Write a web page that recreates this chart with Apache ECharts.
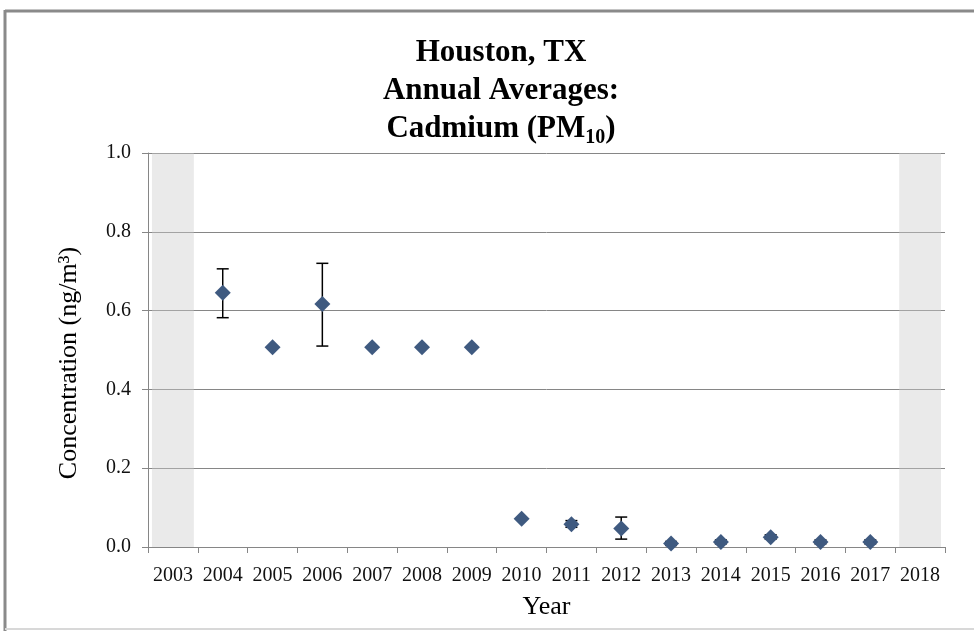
<!DOCTYPE html>
<html>
<head>
<meta charset="utf-8">
<script src="https://cdn.jsdelivr.net/npm/echarts@6/dist/echarts.min.js"></script>
<style>
  html, body { margin: 0; padding: 0; background: #fff; }
  #chart { width: 974px; height: 631px; }
</style>
</head>
<body>
<div id="chart"></div>
<script>
// Houston, TX annual average cadmium (PM10) concentrations, ng/m3
const years = ['2003', '2004', '2005', '2006', '2007', '2008', '2009', '2010',
               '2011', '2012', '2013', '2014', '2015', '2016', '2017', '2018'];
const means = [null, 0.645, 0.507, 0.617, 0.507, 0.507, 0.507, 0.072,
               0.058, 0.047, 0.009, 0.013, 0.025, 0.013, 0.013, null];
const lowerCI = [null, 0.582, null, 0.510, null, null, null, null,
                 0.050, 0.020, 0.004, 0.008, 0.020, 0.008, 0.008, null];
const upperCI = [null, 0.706, null, 0.720, null, null, null, null,
                 0.067, 0.076, 0.014, 0.018, 0.031, 0.018, 0.018, null];
// shaded years with no annual average
const noDataBands = [1.0, null, null, null, null, null, null, null,
                     null, null, null, null, null, null, null, 1.0];
const yTicks = [0, 0.2, 0.4, 0.6, 0.8, 1.0];

const chart = echarts.init(document.getElementById('chart'));
const serif = '"Liberation Serif", "Times New Roman", serif';
const gridColor = '#868686';

const errorData = years.map((y, i) =>
  lowerCI[i] == null ? null : [i, lowerCI[i], upperCI[i]]).filter(d => d);

chart.setOption({
  animation: false,
  backgroundColor: '#fff',
  graphic: [
    { type: 'line', shape: { x1: 5, y1: 11, x2: 974, y2: 11 },
      style: { stroke: '#8a8a8a', lineWidth: 3 } },
    { type: 'line', shape: { x1: 5, y1: 10, x2: 5, y2: 631 },
      style: { stroke: '#8a8a8a', lineWidth: 3 } },
    { type: 'line', shape: { x1: 5, y1: 629, x2: 974, y2: 629 },
      style: { stroke: '#d8d8d8', lineWidth: 2 } }
  ],
  title: {
    text: '{t|Houston, TX}\n{t|Annual Averages:}\n{t|Cadmium (PM}{s|10}{t|)}',
    left: 496,
    top: 29,
    textAlign: 'center',
    textStyle: {
      rich: {
        t: { fontFamily: serif, fontWeight: 'bold', fontSize: 31, color: '#000', lineHeight: 38 },
        s: { fontFamily: serif, fontWeight: 'bold', fontSize: 20, color: '#000',
             verticalAlign: 'bottom', lineHeight: 30 }
      }
    }
  },
  grid: { left: 148, right: 29, top: 153, bottom: 84 },
  xAxis: {
    type: 'category',
    data: years,
    boundaryGap: true,
    name: 'Year',
    nameLocation: 'middle',
    nameGap: 47,
    nameTextStyle: { fontFamily: serif, fontSize: 26, color: '#000' },
    axisLine: { show: true, lineStyle: { color: gridColor, width: 1 } },
    axisTick: { show: true, alignWithLabel: false, length: 6, lineStyle: { color: gridColor } },
    axisLabel: { fontFamily: serif, fontSize: 20, color: '#111', margin: 19, interval: 0 },
    splitLine: { show: false }
  },
  yAxis: {
    type: 'value',
    min: 0,
    max: 1,
    interval: 0.2,
    name: 'Concentration (ng/m³)',
    nameLocation: 'middle',
    nameGap: 66,
    nameTextStyle: { fontFamily: serif, fontSize: 26, color: '#000', padding: [0, 0, 0, -26] },
    axisLine: { show: true, lineStyle: { color: gridColor, width: 1 } },
    axisTick: { show: true, length: 6, lineStyle: { color: gridColor } },
    axisLabel: {
      fontFamily: serif, fontSize: 20, color: '#111', margin: 17,
      formatter: v => yTicks.includes(+v.toFixed(1)) ? v.toFixed(1) : ''
    },
    splitLine: { show: true, lineStyle: { color: gridColor, width: 1 } }
  },
  series: [
    {
      type: 'bar',
      data: noDataBands,
      barWidth: '84%',
      itemStyle: { color: 'rgba(205,205,205,0.42)' },
      silent: true,
      z: 1
    },
    {
      type: 'custom',
      data: errorData,
      z: 3,
      renderItem: (params, api) => {
        const lo = api.coord([api.value(0), api.value(1)]);
        const hi = api.coord([api.value(0), api.value(2)]);
        const half = 6;
        const style = { stroke: '#000', lineWidth: 1.5 };
        return {
          type: 'group',
          children: [
            { type: 'line', shape: { x1: lo[0], y1: lo[1], x2: hi[0], y2: hi[1] }, style },
            { type: 'line', shape: { x1: lo[0] - half, y1: lo[1], x2: lo[0] + half, y2: lo[1] }, style },
            { type: 'line', shape: { x1: hi[0] - half, y1: hi[1], x2: hi[0] + half, y2: hi[1] }, style }
          ]
        };
      }
    },
    {
      type: 'scatter',
      data: means,
      symbol: 'diamond',
      symbolSize: 16,
      itemStyle: { color: '#3f5a80', opacity: 1 },
      z: 4
    }
  ]
});
</script>
</body>
</html>
